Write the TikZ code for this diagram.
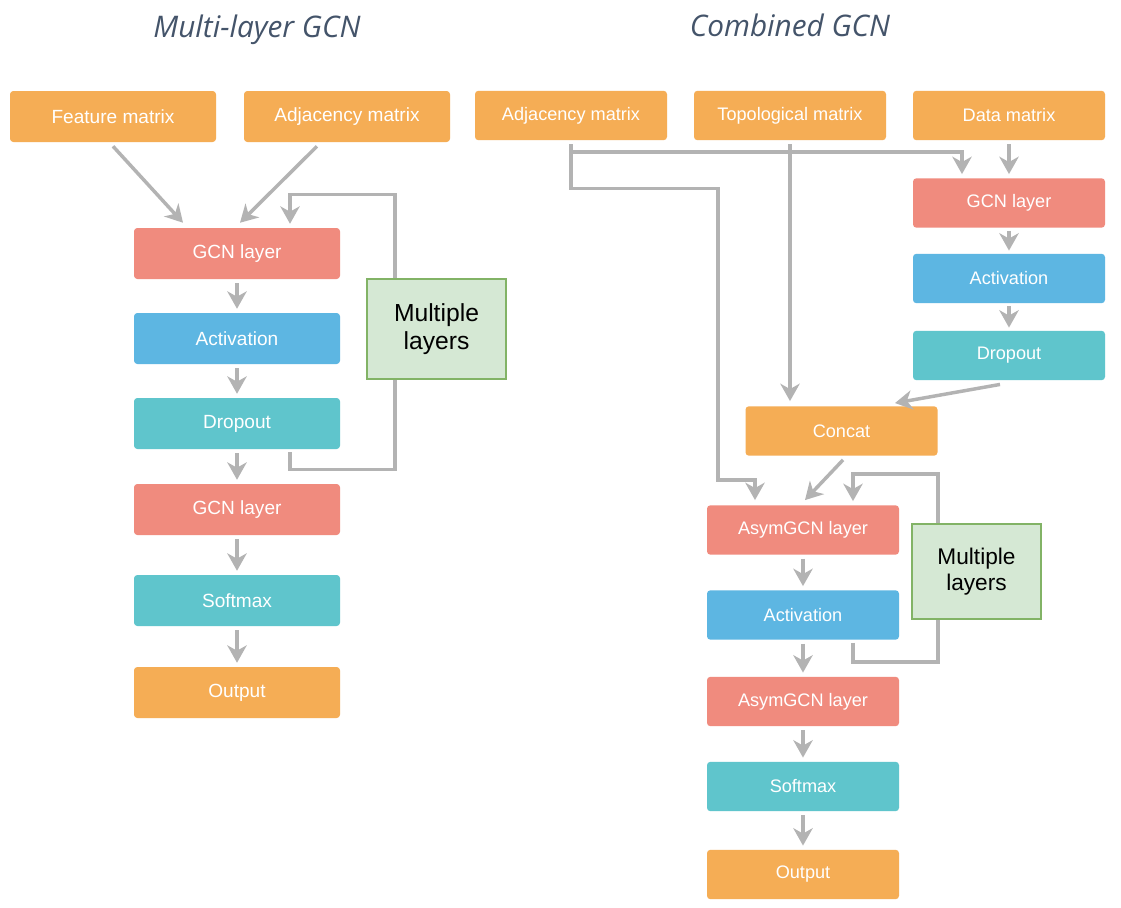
\documentclass[tikz,border=0pt]{standalone}
\usepackage{fontspec}
\setmainfont{Liberation Sans}
\newfontfamily\titlefont{Open Sans}
\usetikzlibrary{arrows.meta,calc}
\definecolor{corange}{HTML}{F5AD55}
\definecolor{csalmon}{HTML}{F08B7E}
\definecolor{cblue}{HTML}{5DB6E2}
\definecolor{cteal}{HTML}{5FC5CC}
\definecolor{cgreenf}{HTML}{D5E8D4}
\definecolor{cgreend}{HTML}{82B366}
\definecolor{cline}{HTML}{B3B3B3}
\definecolor{ctitle}{HTML}{44546A}
\tikzset{
  boxL/.style={rounded corners=2.5pt, minimum width=154.5pt, minimum height=38.25pt, inner sep=0pt,
    text=white, font=\fontsize{14.3}{16}\selectfont},
  boxR/.style={rounded corners=2.5pt, minimum width=144pt, minimum height=37pt, inner sep=0pt,
    text=white, font=\fontsize{13.6}{16}\selectfont},
  orangebox/.style={fill=corange},
  salmonbox/.style={fill=csalmon},
  bluebox/.style={fill=cblue},
  tealbox/.style={fill=cteal},
  multibox/.style={fill=cgreenf, draw=cgreend, line width=0.8pt, inner sep=0pt, align=center, text=black},
  arr/.style={draw=cline, line width=2.6pt, -{Stealth[length=13pt, width=14.5pt, inset=4pt]}},
  plainline/.style={draw=cline, line width=2.6pt},
  titletext/.style={text=ctitle, font=\titlefont\itshape\fontsize{22.3}{26}\selectfont},
}
\begin{document}
\begin{tikzpicture}[x=0.75pt, y=-0.75pt]
\useasboundingbox[fill=white] (0,0) rectangle (1121,907);

% titles
\node[titletext] (t1) at (257,30) {Multi-layer GCN};
\node[titletext] (t2) at (790,25) {Combined GCN};

% left column
\node[boxL, orangebox] (feat) at (113,116.5) {Feature matrix};
\node[boxL, orangebox] (adjL) at (347,116.5) {Adjacency matrix};
\node[boxL, salmonbox] (gcn1) at (237,253.5) {GCN layer};
\node[boxL, bluebox] (act1) at (237,338.5) {Activation};
\node[boxL, tealbox] (drop1) at (237,423.5) {Dropout};
\node[boxL, salmonbox] (gcn2) at (237,509.5) {GCN layer};
\node[boxL, tealbox] (soft1) at (237,600.5) {Softmax};
\node[boxL, orangebox] (out1) at (237,692.5) {Output};
\node[multibox, minimum width=104.25pt, minimum height=75pt, font=\fontsize{18.5}{21}\selectfont] (ml1) at (436.5,329) {Multiple\\layers};

\draw[arr] ($(feat.south)+(0,4)$) -- ($(gcn1.north)+(-54,-5)$);
\draw[arr] ($(adjL.south)+(-30,4)$) -- ($(gcn1.north)+(3,-5)$);
\draw[arr] ($(gcn1.south)+(0,4)$) -- ($(act1.north)+(0,-4)$);
\draw[arr] ($(act1.south)+(0,4)$) -- ($(drop1.north)+(0,-4)$);
\draw[arr] ($(drop1.south)+(0,4)$) -- ($(gcn2.north)+(0,-4)$);
\draw[arr] ($(gcn2.south)+(0,4)$) -- ($(soft1.north)+(0,-4)$);
\draw[arr] ($(soft1.south)+(0,4)$) -- ($(out1.north)+(0,-4)$);
\draw[plainline] ($(drop1.south)+(53,3)$) -- ++(0,17) -| ($(ml1.south)+(-41.5,0)$);
\draw[arr] ($(ml1.north)+(-41.5,0)$) |- ($(gcn1.north)+(53,-33)$) -- ($(gcn1.north)+(53,-4)$);

% right column
\node[boxR, orangebox] (adjR) at (571,115.5) {Adjacency matrix};
\node[boxR, orangebox] (topo) at (790,115.5) {Topological matrix};
\node[boxR, orangebox] (data) at (1009,115.5) {Data matrix};
\node[boxR, salmonbox] (gcnR) at (1009,203) {GCN layer};
\node[boxR, bluebox] (actR) at (1009,278.5) {Activation};
\node[boxR, tealbox] (dropR) at (1009,355.5) {Dropout};
\node[boxR, orangebox] (concat) at (841.5,431) {Concat};
\node[boxR, salmonbox] (asym1) at (803,530) {AsymGCN layer};
\node[boxR, bluebox] (act2) at (803,615) {Activation};
\node[boxR, salmonbox] (asym2) at (803,701.5) {AsymGCN layer};
\node[boxR, tealbox] (soft2) at (803,786.5) {Softmax};
\node[boxR, orangebox] (out2) at (803,874.5) {Output};
\node[multibox, minimum width=96.75pt, minimum height=71.25pt, font=\fontsize{17}{20}\selectfont] (ml2) at (976.5,571.5) {Multiple\\layers};

\draw[arr] ($(adjR.south)+(0,4)$) |- ($(gcnR.north)+(-47,-26)$) -- ($(gcnR.north)+(-47,-4)$);
\draw[arr] ($(adjR.south)+(0,8)$) -- ($(adjR.south)+(0,48)$) -| ($(asym1.north)+(-85,-25)$) -| ($(asym1.north)+(-48,-5)$);
\draw[arr] ($(topo.south)+(0,4)$) -- ($(concat.north)+(-51.5,-5)$);
\draw[arr] ($(data.south)+(0,4)$) -- ($(gcnR.north)+(0,-4)$);
\draw[arr] ($(gcnR.south)+(0,3)$) -- ($(actR.north)+(0,-3)$);
\draw[arr] ($(actR.south)+(0,3)$) -- ($(dropR.north)+(0,-3)$);
\draw[arr] ($(dropR.south)+(-9,4)$) -- ($(concat.north)+(53.5,-3)$);
\draw[arr] ($(concat.south)+(1.5,4)$) -- ($(asym1.north)+(2,-5)$);
\draw[arr] ($(asym1.south)+(0,4)$) -- ($(act2.north)+(0,-4)$);
\draw[arr] ($(act2.south)+(0,4)$) -- ($(asym2.north)+(0,-4)$);
\draw[arr] ($(asym2.south)+(0,4)$) -- ($(soft2.north)+(0,-4)$);
\draw[arr] ($(soft2.south)+(0,4)$) -- ($(out2.north)+(0,-4)$);
\draw[plainline] ($(act2.south)+(50,3)$) -- ++(0,19) -| ($(ml2.south)+(-38.5,0)$);
\draw[arr] ($(ml2.north)+(-38.5,0)$) |- ($(asym1.north)+(50,-31)$) -- ($(asym1.north)+(50,-4)$);
\end{tikzpicture}
\end{document}
